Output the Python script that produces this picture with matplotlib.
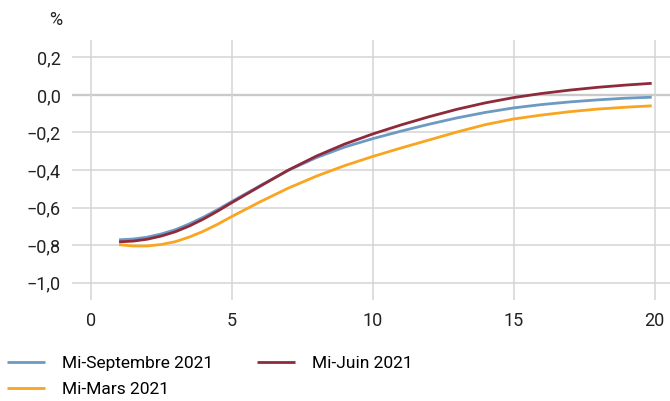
import matplotlib
matplotlib.use("Agg")
import matplotlib.pyplot as plt
from matplotlib.ticker import FuncFormatter

plt.rcParams['font.family'] = ['Roboto', 'DejaVu Sans']

# maturity (years)
maturities = [1, 1.5, 2, 2.5, 3, 3.5, 4, 4.5, 5, 6, 7, 8, 9, 10, 11, 12, 13, 14, 15, 16, 17, 18, 19, 19.9]

# rates in %
sep_2021 = [-0.772, -0.768, -0.758, -0.741, -0.718, -0.687, -0.651, -0.611, -0.568,
            -0.484, -0.402, -0.334, -0.278, -0.233, -0.193, -0.156, -0.122, -0.093,
            -0.069, -0.051, -0.037, -0.026, -0.017, -0.012]
jun_2021 = [-0.783, -0.779, -0.769, -0.752, -0.729, -0.698, -0.661, -0.619, -0.574,
            -0.487, -0.401, -0.326, -0.262, -0.208, -0.160, -0.116, -0.076, -0.042,
            -0.014, 0.008, 0.026, 0.041, 0.053, 0.062]
mar_2021 = [-0.798, -0.805, -0.805, -0.797, -0.782, -0.757, -0.726, -0.689, -0.648,
            -0.570, -0.497, -0.433, -0.377, -0.328, -0.283, -0.240, -0.197, -0.158,
            -0.128, -0.107, -0.089, -0.075, -0.065, -0.058]

labels = ["Mi-Septembre 2021", "Mi-Mars 2021", "Mi-Juin 2021"]
colors = {"sep": "#6C9AC3", "jun": "#8E2A3B", "mar": "#F9A51F"}

yticks = [-1.0, -0.8, -0.6, -0.4, -0.2, 0.0, 0.2]
xticks = [0, 5, 10, 15, 20]

fig = plt.figure(figsize=(6.7, 4.01), dpi=100)
ax = fig.add_axes([72 / 670, 1 - 300 / 401, 1 - 72 / 670, 260 / 401])

ax.set_xlim(-0.67, 20.55)
ax.set_ylim(-1.093, 0.293)
ax.set_xticks(xticks)
ax.set_yticks(yticks)
ax.grid(True, color="#d4d4d4", linewidth=1.1)
ax.axhline(0, color="#aaaaaa", linewidth=1.6, zorder=1.5)
for s in ax.spines.values():
    s.set_visible(False)

ax.yaxis.set_major_formatter(FuncFormatter(lambda v, p: f"{v:.1f}".replace(".", ",").replace("-", "\u2212")))
ax.tick_params(length=0, labelsize=13, colors="#222222")
ax.tick_params(axis="y", pad=8)
ax.tick_params(axis="x", pad=9)

l_sep, = ax.plot(maturities, sep_2021, color=colors["sep"], lw=2.0, solid_capstyle="butt", zorder=3)
l_mar, = ax.plot(maturities, mar_2021, color=colors["mar"], lw=2.0, solid_capstyle="butt", zorder=3)
l_jun, = ax.plot(maturities, jun_2021, color=colors["jun"], lw=2.0, solid_capstyle="butt", zorder=4)

fig.text(62 / 670, 1 - 20 / 401, "%", ha="right", va="center", fontsize=13, color="#222222")

fig.legend([l_sep, l_mar, l_jun], labels, ncol=2, loc="upper left",
           bbox_to_anchor=(7 / 670, 1 - 356 / 401), frameon=False, fontsize=12.5,
           handlelength=2.18, handletextpad=1.0, columnspacing=2.5,
           labelspacing=0.6, borderpad=0, borderaxespad=0)

fig.savefig("out.png", dpi=100)
